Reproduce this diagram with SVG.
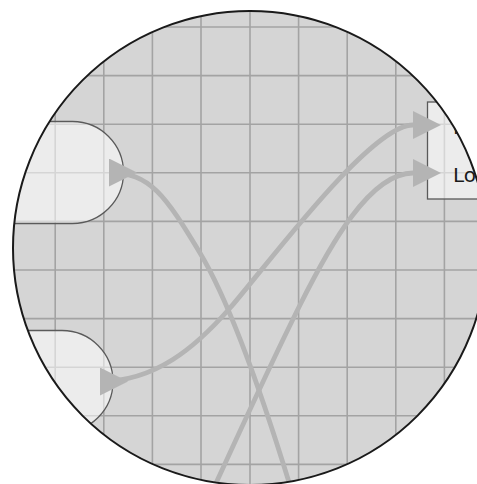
<svg xmlns="http://www.w3.org/2000/svg" width="477" height="484" viewBox="0 0 477 484">
  <style>
    .grid line { stroke: #a3a3a3; stroke-width: 1.6; }
    .node { fill: #ffffff; fill-opacity: 0.55; stroke: #5a5a5a; stroke-width: 1.3; }
    .edge { fill: none; stroke: #b4b4b4; stroke-width: 4.8; }
    .label { font-family: "DejaVu Sans", sans-serif; font-size: 20px; fill: #1a1a1a; }
  </style>
  <defs>
    <clipPath id="lens">
      <circle cx="250" cy="248" r="237"/>
    </clipPath>
    <marker id="arrow" viewBox="0 0 28 28" refX="0" refY="14" markerWidth="28" markerHeight="28" markerUnits="userSpaceOnUse" orient="auto">
      <path d="M0,0 L28,14 L0,28 Z" fill="#b4b4b4"/>
    </marker>
  </defs>
  <rect width="477" height="484" fill="#ffffff"/>
  <g clip-path="url(#lens)">
    <rect x="0" y="0" width="477" height="484" fill="#d5d5d5"/>
    <g class="grid">
      <line x1="6.6" y1="0" x2="6.6" y2="484"/>
      <line x1="55.2" y1="0" x2="55.2" y2="484"/>
      <line x1="103.8" y1="0" x2="103.8" y2="484"/>
      <line x1="152.4" y1="0" x2="152.4" y2="484"/>
      <line x1="201" y1="0" x2="201" y2="484"/>
      <line x1="250" y1="0" x2="250" y2="484"/>
      <line x1="298.6" y1="0" x2="298.6" y2="484"/>
      <line x1="347.2" y1="0" x2="347.2" y2="484"/>
      <line x1="395.8" y1="0" x2="395.8" y2="484"/>
      <line x1="444.4" y1="0" x2="444.4" y2="484"/>
      <line x1="0" y1="27" x2="477" y2="27"/>
      <line x1="0" y1="75.6" x2="477" y2="75.6"/>
      <line x1="0" y1="124.2" x2="477" y2="124.2"/>
      <line x1="0" y1="172.8" x2="477" y2="172.8"/>
      <line x1="0" y1="221.4" x2="477" y2="221.4"/>
      <line x1="0" y1="270" x2="477" y2="270"/>
      <line x1="0" y1="318.6" x2="477" y2="318.6"/>
      <line x1="0" y1="367.2" x2="477" y2="367.2"/>
      <line x1="0" y1="415.8" x2="477" y2="415.8"/>
      <line x1="0" y1="464.4" x2="477" y2="464.4"/>
    </g>
    <g id="node-a">
      <path class="node" d="M-60,121.5 L72.5,121.5 A51,51 0 0 1 72.5,223.5 L-60,223.5 Z"/>
    </g>
    <g id="node-b">
      <path class="node" d="M-60,330.5 L62,330.5 A51,51 0 0 1 62,432.5 L-60,432.5 Z"/>
    </g>
    <g id="node-c">
      <rect class="node" x="427.5" y="102" width="160" height="97"/>
      <text class="label" x="453" y="133.5">Hi</text>
      <text class="label" x="453" y="182">Lo</text>
    </g>
    <g id="connectors">
      <path class="edge" marker-start="url(#arrow)" d="M109,172.5 C150,172.5 165,195 200,253 S270,420 292,492"/>
      <path class="edge" marker-start="url(#arrow)" marker-end="url(#arrow)" d="M100,381.5 C155,381.5 195,348 230,308 S370,125 413,125"/>
      <path class="edge" marker-end="url(#arrow)" d="M212,492 C245,420 270,365 300,305 S370,173 413,173"/>
    </g>
  </g>
  <circle cx="250" cy="248" r="237" fill="none" stroke="#1a1a1a" stroke-width="2"/>
</svg>
